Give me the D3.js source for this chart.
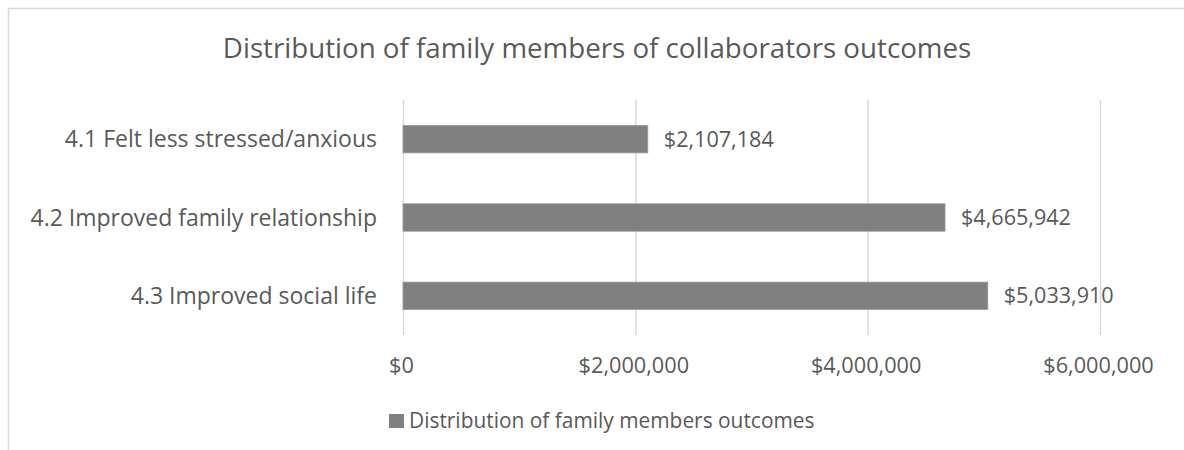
<!DOCTYPE html>
<html>
  <head>
    <style>
    body {
        margin: 0px;
        overflow: hidden;
        background: white;
    }
    text {
        font-family: "Open Sans", sans-serif;
        fill: #595959;
    }
    </style>
    <script src="https://d3js.org/d3.v7.min.js"></script>
  </head>
  <body>
    <svg width="1184" height="450"></svg>
    <script>
        // data
        const categories = ['4.1 Felt less stressed/anxious', '4.2 Improved family relationship', '4.3 Improved social life'];
        const values = [2107184, 4665942, 5033910];
        const tickValues = [0, 2000000, 4000000, 6000000];
        const title = 'Distribution of family members of collaborators outcomes';
        const seriesName = 'Distribution of family members outcomes';

        const data = categories.map((c, i) => ({name: c, value: values[i]}));

        const svg = d3.select('svg');

        // chart frame (runs off the right/bottom edge like the picture)
        svg.append('rect')
            .attr('x', 8.5).attr('y', 8.5)
            .attr('width', 1300).attr('height', 600)
            .attr('fill', 'white')
            .attr('stroke', '#d9d9d9')
            .attr('stroke-width', 1.5);

        //plot area
        const plot = { left: 403, right: 1100, top: 100, bottom: 335 };

        const xScale = d3.scaleLinear()
            .domain([0, 6000000])
            .range([plot.left, plot.right]);

        const yScale = d3.scaleBand()
            .domain(categories)
            .range([plot.top, plot.bottom])
            .paddingInner(0.65)
            .paddingOuter(0.325);

        const fmt = d3.format('$,');

        //gridlines + tick labels
        const xAxis = d3.axisBottom(xScale)
            .tickValues(tickValues)
            .tickFormat(fmt)
            .tickSize(-(plot.bottom - plot.top))
            .tickPadding(23);

        const xAxisG = svg.append('g')
            .attr('transform', `translate(0,${plot.bottom})`)
            .call(xAxis);
        xAxisG.select('.domain').remove();
        xAxisG.selectAll('.tick line').attr('stroke', '#d9d9d9').attr('stroke-width', 1.5);
        xAxisG.selectAll('.tick text')
            .attr('fill', '#595959')
            .attr('dx', '-2')
            .style('font-family', '"Open Sans", sans-serif')
            .style('font-size', '21.7px');

        //category labels
        svg.append('g').selectAll('text').data(data)
            .enter().append('text')
                .attr('x', plot.left - 26)
                .attr('y', d => yScale(d.name) + yScale.bandwidth() / 2)
                .attr('dy', '0.35em')
                .attr('text-anchor', 'end')
                .style('font-size', '23px')
                .text(d => d.name);

        //bars
        svg.append('g').selectAll('rect').data(data)
            .enter().append('rect')
                .attr('x', xScale(0))
                .attr('y', d => yScale(d.name))
                .attr('width', d => xScale(d.value) - xScale(0))
                .attr('height', yScale.bandwidth())
                .attr('fill', '#808080')
                .attr('stroke', '#999999')
                .attr('stroke-width', 0.8);

        //value labels
        svg.append('g').selectAll('text').data(data)
            .enter().append('text')
                .attr('x', d => xScale(d.value) + 16)
                .attr('y', d => yScale(d.name) + yScale.bandwidth() / 2)
                .attr('dy', '0.35em')
                .style('font-size', '21.6px')
                .text(d => fmt(d.value));

        //title
        svg.append('text')
            .attr('x', 597)
            .attr('y', 58)
            .attr('text-anchor', 'middle')
            .style('font-size', '27.7px')
            .text(title);

        //legend
        const legend = svg.append('g').attr('transform', 'translate(389,414)');
        legend.append('rect')
            .attr('width', 15).attr('height', 14)
            .attr('fill', '#808080');
        legend.append('text')
            .attr('x', 20)
            .attr('y', 7)
            .attr('dy', '0.35em')
            .style('font-size', '20.9px')
            .text(seriesName);
    </script>
  </body>
</html>
